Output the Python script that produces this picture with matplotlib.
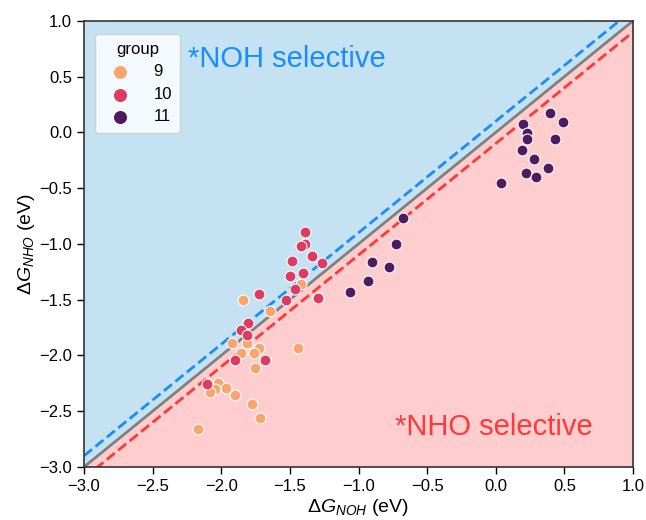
import matplotlib
matplotlib.use("Agg")
import matplotlib.pyplot as plt
import numpy as np

plt.rcParams['font.family'] = ['Liberation Sans', 'DejaVu Sans']
plt.rcParams['mathtext.fontset'] = 'custom'
plt.rcParams['mathtext.rm'] = 'Liberation Sans'
plt.rcParams['mathtext.it'] = 'Liberation Sans:italic'
plt.rcParams['axes.unicode_minus'] = True

groups = [9, 10, 11]
group_colors = ['#f9a66e', '#de3a62', '#4f1a60']

g9_x = [-1.421, -1.844, -1.645, -1.924, -1.815, -1.723, -1.443, -1.854, -1.761,
        -1.756, -2.021, -1.963, -2.043, -2.082, -1.902, -1.774, -1.715, -2.169]
g9_y = [-1.356, -1.502, -1.598, -1.891, -1.885, -1.930, -1.930, -1.980, -1.980,
        -2.109, -2.244, -2.289, -2.300, -2.325, -2.357, -2.435, -2.561, -2.657]

g10_x = [-1.392, -1.392, -1.421, -1.341, -1.487, -1.264, -1.404, -1.497, -1.463,
         -1.526, -1.297, -1.725, -1.803, -1.858, -1.812, -1.902, -1.681, -2.104]
g10_y = [-0.895, -1.003, -1.021, -1.105, -1.155, -1.173, -1.257, -1.290, -1.401,
         -1.502, -1.487, -1.448, -1.709, -1.774, -1.819, -2.043, -2.038, -2.258]

g11_x = [0.395, 0.488, 0.196, 0.228, 0.228, 0.434, 0.191, 0.281, 0.383,
         0.223, 0.293, 0.038, -0.674, -0.725, -0.904, -0.780, -0.933, -1.064]
g11_y = [0.172, 0.094, 0.074, -0.004, -0.056, -0.056, -0.154, -0.240, -0.316,
         -0.363, -0.396, -0.450, -0.764, -1.003, -1.164, -1.209, -1.332, -1.433]

xs = [g9_x, g10_x, g11_x]
ys = [g9_y, g10_y, g11_y]

fig = plt.figure(figsize=(6.46, 5.2), dpi=100)
ax = fig.add_axes([0.130, 0.102, 0.850, 0.858])

lim = [-3.0, 1.0]
line = np.array(lim)
ax.fill_between(line, line, 1.0, color='#c4e2f1', zorder=0, linewidth=0)
ax.fill_between(line, -3.0, line, color='#ffcdce', zorder=0, linewidth=0)
ax.plot(line, line, color='#808080', lw=2, zorder=1)
ax.plot(line, line + 0.1, color='#1a8cff', lw=2, ls='--', zorder=1)
ax.plot(line, line - 0.1, color='#ff3838', lw=2, ls='--', zorder=1)

for g, c, x, y in zip(groups, group_colors, xs, ys):
    ax.scatter(x, y, s=62, color=c, edgecolor='white', linewidth=0.8, label=str(g), zorder=3)

ax.text(-2.245, 0.59, '*NOH selective', color='#1a8cff', fontsize=21, zorder=4)
ax.text(-0.735, -2.71, '*NHO selective', color='#ff3838', fontsize=21, zorder=4)

ax.set_xlim(lim)
ax.set_ylim(lim)
ticks = np.arange(-3.0, 1.01, 0.5)
ax.set_xticks(ticks)
ax.set_yticks(ticks)
ax.tick_params(labelsize=12, direction='out', length=5, width=1)
for s in ax.spines.values():
    s.set_color('#333333')
    s.set_linewidth(1.2)

ax.set_xlabel(r'$\Delta G_{NOH}$ (eV)', fontsize=14, labelpad=2)
ax.set_ylabel(r'$\Delta G_{NHO}$ (eV)', fontsize=14, labelpad=2)

leg = ax.legend(title='group', loc='upper left', fontsize=12, title_fontsize=12,
                framealpha=0.8, edgecolor='#cccccc', borderpad=0.5,
                handletextpad=1.0, markerscale=1.3, labelspacing=0.45,
                bbox_to_anchor=(0.005, 0.99))

fig.savefig('out.png', dpi=100)
